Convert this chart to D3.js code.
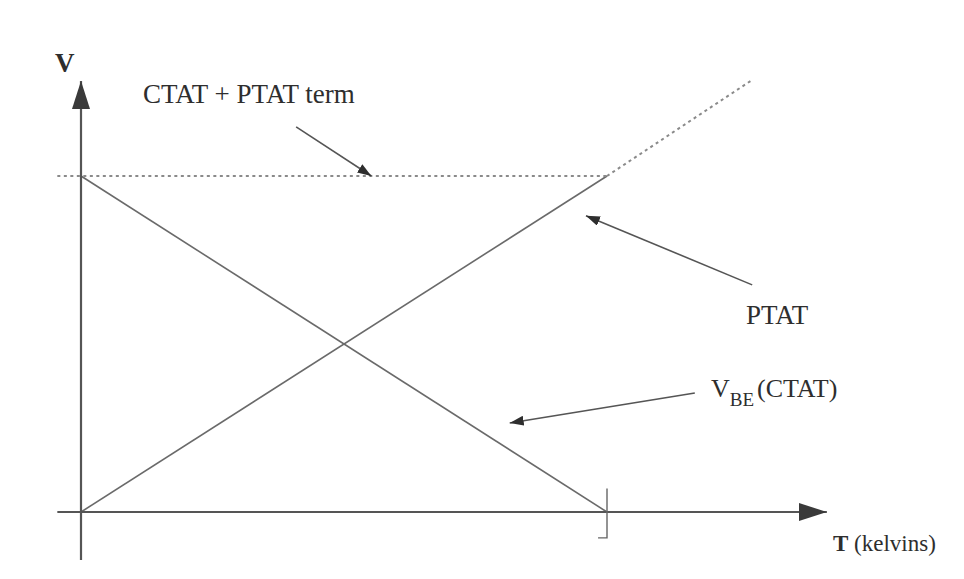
<!DOCTYPE html>
<html>
<head>
<meta charset="utf-8">
<script src="https://cdn.jsdelivr.net/npm/d3@7"></script>
<style>
  html, body { margin: 0; padding: 0; background: #fff; }
  text { font-family: "Liberation Serif", "DejaVu Serif", serif; fill: #2e2e2e; }
</style>
</head>
<body>
<div id="chart"></div>
<script>
// Normalised temperature (T) and voltage (V) for each curve.
const ctatT = [0, 1];
const ctatV = [1, 0];
const ptatT = [0, 1];
const ptatV = [0, 1];
const ptatExtT = [1, 1.275];
const ptatExtV = [1, 1.285];
const sumT = [-0.045, 1];
const sumV = [1, 1];

// Labels and the points their arrows start from / point at (data units).
const labels = ["CTAT + PTAT term", "PTAT", "V_BE (CTAT)"];
const arrowFromT = [0.409, 1.276, 1.167];
const arrowFromV = [1.146, 0.676, 0.354];
const arrowToT = [0.552, 0.96, 0.815];
const arrowToV = [1.0, 0.882, 0.265];

// Declare the chart dimensions.
const width = 964;
const height = 579;

// Scales: T = 0 at the origin, T = 1 at the tick on the axis.
const x = d3.scaleLinear([0, 1], [81, 607]);
const y = d3.scaleLinear([0, 1], [512, 176]);

const line = d3.line().x(d => x(d[0])).y(d => y(d[1]));

const svg = d3.create("svg")
  .attr("width", width)
  .attr("height", height)
  .attr("viewBox", [0, 0, width, height]);

d3.select("#chart").append(() => svg.node());

const defs = svg.append("defs");
defs.append("marker")
  .attr("id", "bigHead")
  .attr("viewBox", "0 0 28 18")
  .attr("refX", 28).attr("refY", 9)
  .attr("markerWidth", 28).attr("markerHeight", 18)
  .attr("markerUnits", "userSpaceOnUse")
  .attr("orient", "auto")
  .append("path").attr("d", "M0,0L28,9L0,18Z").attr("fill", "#3a3a3a");
defs.append("marker")
  .attr("id", "smallHead")
  .attr("viewBox", "0 0 14 10")
  .attr("refX", 14).attr("refY", 5)
  .attr("markerWidth", 14).attr("markerHeight", 10)
  .attr("markerUnits", "userSpaceOnUse")
  .attr("orient", "auto")
  .append("path").attr("d", "M0,0L14,5L0,10Z").attr("fill", "#2e2e2e");

const zip = (a, b) => a.map((d, i) => [d, b[i]]);

// Curves.
svg.append("path")
  .attr("fill", "none").attr("stroke", "#6a6a6a").attr("stroke-width", 1.6)
  .attr("d", line(zip(ctatT, ctatV)));
svg.append("path")
  .attr("fill", "none").attr("stroke", "#6a6a6a").attr("stroke-width", 1.6)
  .attr("d", line(zip(ptatT, ptatV)));
svg.append("path")
  .attr("fill", "none").attr("stroke", "#8a8a8a").attr("stroke-width", 2)
  .attr("stroke-dasharray", "3,3.5")
  .attr("d", line(zip(ptatExtT, ptatExtV)));
svg.append("path")
  .attr("fill", "none").attr("stroke", "#8a8a8a").attr("stroke-width", 1.8)
  .attr("stroke-dasharray", "3,3.5")
  .attr("d", line(zip(sumT, sumV)));

// Axes with arrows.
svg.append("line")
  .attr("x1", x(-0.045)).attr("y1", y(0))
  .attr("x2", x(1.418)).attr("y2", y(0))
  .attr("stroke", "#555").attr("stroke-width", 2.2)
  .attr("marker-end", "url(#bigHead)");
svg.append("line")
  .attr("x1", x(0)).attr("y1", y(-0.143))
  .attr("x2", x(0)).attr("y2", y(1.283))
  .attr("stroke", "#555").attr("stroke-width", 2.2)
  .attr("marker-end", "url(#bigHead)");

// Tick at T = 1.
svg.append("path")
  .attr("fill", "none").attr("stroke", "#666").attr("stroke-width", 1.4)
  .attr("d", `M${x(1)},${y(0.07)}V${y(-0.077)}H${x(0.983)}`);

// Axis labels.
svg.append("text")
  .attr("x", 55).attr("y", 72)
  .attr("font-size", 27).attr("font-weight", "bold")
  .text("V");
svg.append("text")
  .attr("x", 833).attr("y", 551)
  .attr("font-size", 23)
  .call(t => t.append("tspan").attr("font-weight", "bold").text("T"))
  .call(t => t.append("tspan").text(" (kelvins)"));

// Annotation arrows.
labels.forEach((lab, i) => {
  svg.append("line")
    .attr("x1", x(arrowFromT[i])).attr("y1", y(arrowFromV[i]))
    .attr("x2", x(arrowToT[i])).attr("y2", y(arrowToV[i]))
    .attr("stroke", "#555").attr("stroke-width", 1.6)
    .attr("marker-end", "url(#smallHead)");
});

// Annotation texts.
svg.append("text")
  .attr("x", 143).attr("y", 103)
  .attr("font-size", 27)
  .text(labels[0]);
svg.append("text")
  .attr("x", 746).attr("y", 324)
  .attr("font-size", 27)
  .text(labels[1]);
svg.append("text")
  .attr("x", 711).attr("y", 397)
  .attr("font-size", 26)
  .call(t => t.append("tspan").text("V"))
  .call(t => t.append("tspan").attr("font-size", 19).attr("dy", 9).text("BE"))
  .call(t => t.append("tspan").attr("dy", -9).attr("dx", 3).text("(CTAT)"));
</script>
</body>
</html>
